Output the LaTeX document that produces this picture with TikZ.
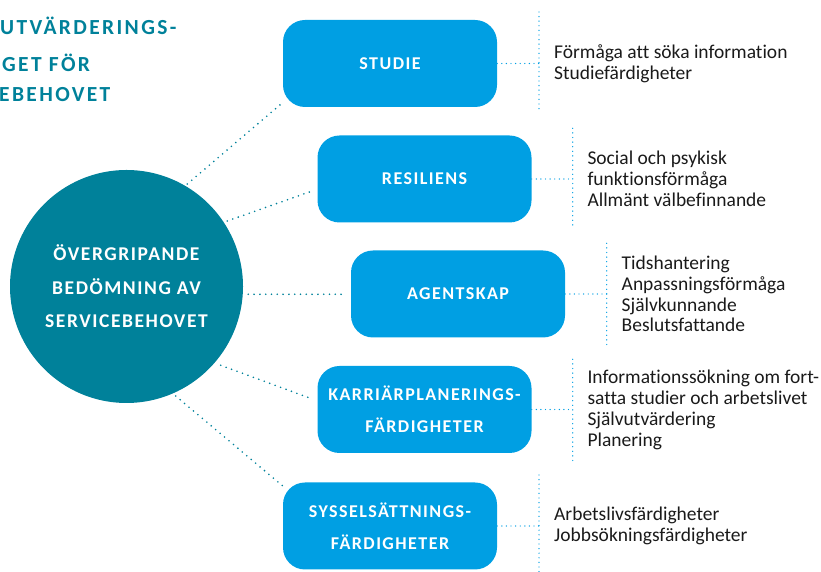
\documentclass[tikz,border=0pt]{standalone}
\usepackage{fontspec}
\setmainfont{Carlito}
\usetikzlibrary{calc}
\definecolor{teal1}{HTML}{00819A}
\definecolor{blue1}{HTML}{009FE3}
\definecolor{txt}{HTML}{1A1A1A}
\tikzset{
  box/.style={draw=none, fill=blue1, rounded corners=22pt, minimum width=214pt, minimum height=87pt,
    text=white, align=center, font=\fontsize{18}{32}\selectfont\bfseries\addfontfeature{LetterSpace=8}},
  hub/.style={circle, fill=teal1, minimum size=233pt, inner sep=0pt, text=white, align=center,
    font=\fontsize{19.5}{33.5}\selectfont\bfseries\addfontfeature{LetterSpace=8}},
  tdot/.style={draw=teal1, line width=1.8pt, line cap=round, dash pattern=on 0pt off 5.8pt},
  bdot/.style={draw=blue1, line width=1.4pt, line cap=round, dash pattern=on 0pt off 4.6pt},
  items/.style={anchor=west, align=left, text=txt, inner sep=0pt, font=\fontsize{19.5}{20.8}\selectfont\addfontfeature{Ligatures=NoCommon}},
  ttl/.style={text=teal1, inner sep=0pt, anchor=base west, font=\fontsize{21.5}{31}\selectfont\bfseries\addfontfeature{LetterSpace=11}}
}
\begin{document}
\begin{tikzpicture}[x=1pt,y=1pt]
\useasboundingbox (0,0) rectangle (821,572);
% title (clipped at the left edge)
\node[ttl] (t1) at (0,537) {UTVÄRDERINGS-};
\node[ttl] (t2) at (2,500.3) {GET FÖR};
\node[ttl] (t3) at (-1,470.3) {EBEHOVET};
% hub
\node[hub] (c) at (126.5,285.5) {ÖVERGRIPANDE\\BEDÖMNING AV\\SERVICEBEHOVET};
% boxes
\node[box] (s1) at (390,508.5) {STUDIE};
\node[box] (s2) at (424.5,393) {RESILIENS};
\node[box] (s3) at (458,278) {AGENTSKAP};
\node[box] (s4) at (424.5,162.5) {KARRIÄRPLANERINGS-\\FÄRDIGHETER};
\node[box] (s5) at (390,46) {SYSSELSÄTTNINGS-\\FÄRDIGHETER};
% hub connectors
\coordinate (h1) at (187.3,388);
\coordinate (h2) at (227.3,351);
\coordinate (h3) at (248.3,277.7);
\coordinate (h4) at (220.7,206.7);
\coordinate (h5) at (175.7,176);
\draw[tdot] (h1) -- ($(s1.south west)+(1.5,6)$);
\draw[tdot] (h2) -- ($(s2.west)+(-5,-12)$);
\draw[tdot] (h3) -- ($(s3.west)+(-4,-0.3)$);
\draw[tdot] (h4) -- ($(s4.west)+(-5,10.5)$);
\draw[tdot] (h5) -- ($(s5.north west)+(1.5,-5)$);
% bracket lines
\coordinate (v1t) at (539,560); \coordinate (v1b) at (539,459);
\coordinate (v2t) at (572.7,443.7); \coordinate (v2b) at (572.7,342.7);
\coordinate (v3t) at (606.7,328.7); \coordinate (v3b) at (606.7,227);
\coordinate (v4t) at (572.7,212.7); \coordinate (v4b) at (572.7,111.3);
\coordinate (v5t) at (539,97); \coordinate (v5b) at (539,-3);
\draw[bdot] (v1t) -- (v1b);
\draw[bdot] (v2t) -- (v2b);
\draw[bdot] (v3t) -- (v3b);
\draw[bdot] (v4t) -- (v4b);
\draw[bdot] (v5t) -- (v5b);
\draw[bdot] (s1.east) -- (s1.east -| v1t);
\draw[bdot] (s2.east) -- (s2.east -| v2t);
\draw[bdot] (s3.east) -- (s3.east -| v3t);
\draw[bdot] (s4.east) -- (s4.east -| v4t);
\draw[bdot] (s5.east) -- (s5.east -| v5t);
% item lists
\node[items] (l1) at (554,508.5) {Förmåga att söka information\\Studiefärdigheter};
\node[items] (l2) at (587.3,393) {Social och psykisk\\funktionsförmåga\\Allmänt välbefinnande};
\node[items] (l3) at (621.5,278) {Tidshantering\\Anpassningsförmåga\\Självkunnande\\Beslutsfattande};
\node[items] (l4) at (587.3,162) {Informationssökning om fort-\\satta studier och arbetslivet\\Självutvärdering\\Planering};
\node[items] (l5) at (554,46) {Arbetslivsfärdigheter\\Jobbsökningsfärdigheter};
\end{tikzpicture}
\end{document}
